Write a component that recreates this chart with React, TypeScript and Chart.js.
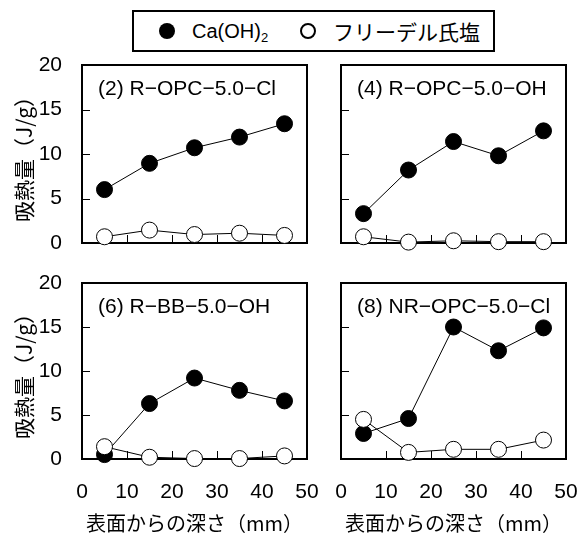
import React, { useEffect, useRef } from "react";
import { Chart, registerables } from "chart.js";

Chart.register(...registerables);

// ---------- data ----------
const depths = [5, 15, 25, 35, 45];
const xRange = [0, 50];
const yRange = [0, 20];
const xStep = 10;
const yStep = 5;

const seriesNames = ["Ca(OH)2", "フリーデル氏塩"];
const panelTitles = [
  "(2) R−OPC−5.0−Cl",
  "(4) R−OPC−5.0−OH",
  "(6) R−BB−5.0−OH",
  "(8) NR−OPC−5.0−Cl",
];
const caOH2_p2 = [6.0, 8.95, 10.7, 11.9, 13.4];
const friedel_p2 = [0.7, 1.45, 0.95, 1.1, 0.85];
const caOH2_p4 = [3.3, 8.2, 11.4, 9.8, 12.6];
const friedel_p4 = [0.7, 0.1, 0.25, 0.15, 0.15];
const caOH2_p6 = [0.5, 6.3, 9.2, 7.8, 6.6];
const friedel_p6 = [1.4, 0.2, 0.05, 0.05, 0.35];
const caOH2_p8 = [2.9, 4.6, 15.0, 12.3, 14.9];
const friedel_p8 = [4.5, 0.75, 1.1, 1.1, 2.15];

const yTitle = "吸熱量（J/g）";
const xTitle = "表面からの深さ（mm）";

// ---------- layout ----------
const NUM_FONT = '"Liberation Sans", Arial, sans-serif';
const JP_FONT = '"Noto Sans CJK JP", "Liberation Sans", sans-serif';

type PanelDef = {
  title: string;
  ca: number[];
  fr: number[];
  canvas: { left: number; top: number; width: number; height: number };
  plot: { left: number; top: number; right: number; bottom: number };
  yLabels: boolean;
  xLabels: boolean;
};

const panels: PanelDef[] = [
  {
    title: panelTitles[0], ca: caOH2_p2, fr: friedel_p2,
    canvas: { left: 0, top: 55, width: 322, height: 200 },
    plot: { left: 82, top: 65, right: 307, bottom: 243 },
    yLabels: true, xLabels: false,
  },
  {
    title: panelTitles[1], ca: caOH2_p4, fr: friedel_p4,
    canvas: { left: 326, top: 55, width: 261, height: 200 },
    plot: { left: 341, top: 65, right: 566, bottom: 243 },
    yLabels: false, xLabels: false,
  },
  {
    title: panelTitles[2], ca: caOH2_p6, fr: friedel_p6,
    canvas: { left: 0, top: 273, width: 322, height: 262 },
    plot: { left: 82, top: 283, right: 307, bottom: 459 },
    yLabels: true, xLabels: true,
  },
  {
    title: panelTitles[3], ca: caOH2_p8, fr: friedel_p8,
    canvas: { left: 326, top: 273, width: 261, height: 262 },
    plot: { left: 341, top: 283, right: 566, bottom: 459 },
    yLabels: false, xLabels: true,
  },
];

const framePlugin = {
  id: "frame",
  beforeDatasetsDraw(chart: any, _args: any, opts: any) {
    const { ctx, chartArea: a, scales } = chart;
    ctx.save();
    ctx.strokeStyle = "#000";
    ctx.lineWidth = 1;
    ctx.beginPath();
    for (const t of scales.x.ticks) {
      if (t.value <= xRange[0] || t.value >= xRange[1]) continue;
      const px = Math.round(scales.x.getPixelForValue(t.value)) + 0.5;
      ctx.moveTo(px, a.bottom);
      ctx.lineTo(px, a.bottom - 8);
    }
    for (const t of scales.y.ticks) {
      if (t.value <= yRange[0] || t.value >= yRange[1]) continue;
      const py = Math.round(scales.y.getPixelForValue(t.value)) + 0.5;
      ctx.moveTo(a.left, py);
      ctx.lineTo(a.left + 8, py);
    }
    ctx.stroke();
    ctx.lineWidth = 2;
    ctx.strokeRect(a.left, a.top, a.right - a.left, a.bottom - a.top);
    ctx.fillStyle = "#000";
    ctx.font = `21px ${NUM_FONT}`;
    ctx.textBaseline = "middle";
    ctx.textAlign = "left";
    ctx.fillText(opts.text, a.left + 16, a.top + 24);
    ctx.restore();
  },
};

function Panel({ def }: { def: PanelDef }) {
  const ref = useRef<HTMLCanvasElement>(null);
  useEffect(() => {
    const c = def.canvas;
    const p = def.plot;
    const yWidth = p.left - c.left;
    const xHeight = c.top + c.height - p.bottom;
    const chart = new Chart(ref.current!, {
      type: "line",
      data: {
        datasets: [
          {
            label: seriesNames[0],
            data: depths.map((d, i) => ({ x: d, y: def.ca[i] })),
            borderColor: "#000",
            borderWidth: 1,
            backgroundColor: "#000",
            pointBackgroundColor: "#000",
            pointBorderColor: "#000",
            pointBorderWidth: 1,
            pointRadius: 8,
            clip: false,
            order: 1,
          },
          {
            label: seriesNames[1],
            data: depths.map((d, i) => ({ x: d, y: def.fr[i] })),
            borderColor: "#000",
            borderWidth: 1,
            backgroundColor: "#fff",
            pointBackgroundColor: "#fff",
            pointBorderColor: "#000",
            pointBorderWidth: 1,
            pointRadius: 8,
            clip: false,
            order: 0,
          },
        ],
      },
      options: {
        animation: false,
        responsive: false,
        maintainAspectRatio: false,
        events: [],
        layout: {
          padding: {
            top: p.top - c.top,
            right: c.left + c.width - p.right,
            left: 0,
            bottom: 0,
          },
        },
        plugins: {
          legend: { display: false },
          tooltip: { enabled: false },
          frame: { text: def.title },
        } as any,
        scales: {
          x: {
            type: "linear",
            min: xRange[0],
            max: xRange[1],
            grid: { display: false, drawTicks: false },
            border: { display: false },
            ticks: {
              display: def.xLabels,
              stepSize: xStep,
              color: "#000",
              padding: 21,
              font: { family: NUM_FONT, size: 21 },
              maxRotation: 0,
            },
            title: {
              display: def.xLabels,
              text: xTitle,
              color: "#000",
              font: { family: JP_FONT, size: 20, lineHeight: 1 },
              padding: { top: 0, bottom: 2 },
            },
            afterFit: (s: any) => {
              s.height = xHeight;
              s.paddingLeft = 0;
              s.paddingRight = 0;
            },
          },
          y: {
            type: "linear",
            min: yRange[0],
            max: yRange[1],
            grid: { display: false, drawTicks: false },
            border: { display: false },
            ticks: {
              display: def.yLabels,
              stepSize: yStep,
              color: "#000",
              padding: 20,
              font: { family: NUM_FONT, size: 21 },
            },
            title: {
              display: def.yLabels,
              text: yTitle,
              color: "#000",
              font: { family: JP_FONT, size: 21, lineHeight: 1 },
              padding: { top: 14, bottom: 0 },
            },
            afterFit: (s: any) => {
              s.width = yWidth;
              s.paddingTop = 0;
              s.paddingBottom = 0;
            },
          },
        },
      },
      plugins: [framePlugin],
    } as any);
    return () => chart.destroy();
  }, [def]);
  const c = def.canvas;
  return (
    <canvas
      ref={ref}
      width={c.width}
      height={c.height}
      style={{ position: "absolute", left: c.left, top: c.top, width: c.width, height: c.height }}
    />
  );
}

function Legend() {
  return (
    <div
      style={{
        position: "absolute",
        left: 132,
        top: 10,
        width: 363,
        height: 42,
        boxSizing: "border-box",
        border: "2px solid #000",
        background: "#fff",
        fontFamily: JP_FONT,
        color: "#000",
      }}
    >
      <div style={{ position: "absolute", left: 25, top: 11, width: 16, height: 16, borderRadius: "50%", background: "#000" }} />
      <div style={{ position: "absolute", left: 58, top: 6, fontFamily: NUM_FONT, fontSize: 20, lineHeight: "26px", whiteSpace: "nowrap" }}>
        Ca(OH)<sub style={{ fontSize: 13, verticalAlign: "-4px", lineHeight: 0 }}>2</sub>
      </div>
      <div style={{ position: "absolute", left: 166, top: 11, width: 16, height: 16, boxSizing: "border-box", borderRadius: "50%", border: "2px solid #000", background: "#fff" }} />
      <div style={{ position: "absolute", left: 199, top: 5, fontSize: 21, lineHeight: "28px", whiteSpace: "nowrap" }}>
        {seriesNames[1]}
      </div>
    </div>
  );
}

export default function App() {
  return (
    <div style={{ position: "absolute", left: 0, top: 0, width: 587, height: 535, background: "#fff", overflow: "hidden" }}>
      <Legend />
      {panels.map((d, i) => (
        <Panel key={i} def={d} />
      ))}
    </div>
  );
}
